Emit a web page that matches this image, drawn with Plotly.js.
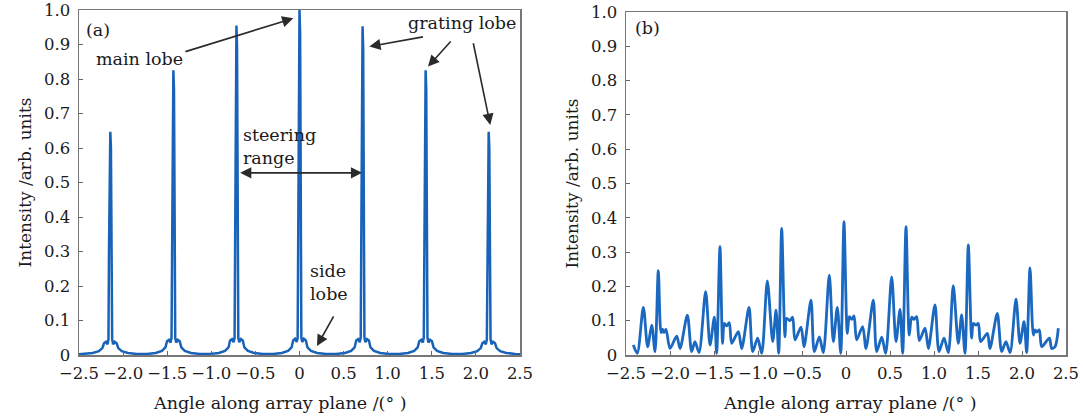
<!DOCTYPE html>
<html>
<head>
<meta charset="utf-8">
<script src="https://cdn.plot.ly/plotly-3.0.1.min.js"></script>
<style>html,body{margin:0;padding:0;background:#fff;}#chart{width:1083px;height:420px;}</style>
</head>
<body>
<div id="chart"></div>
<script>
// Panel (a): array factor with grating lobes
const angleA = [-2.5,
 -2.445,-2.345,-2.275,-2.235,-2.217,-2.195,-2.177,-2.166,-2.160,-2.152,-2.145,-2.138,-2.130,-2.124,-2.113,-2.095,-2.073,-2.055,-2.015,-1.945,-1.845,
 -1.73,-1.63,-1.56,-1.52,-1.502,-1.48,-1.462,-1.451,-1.445,-1.437,-1.43,-1.423,-1.415,-1.409,-1.398,-1.38,-1.358,-1.34,-1.30,-1.23,-1.13,
 -1.015,-0.915,-0.845,-0.805,-0.787,-0.765,-0.747,-0.736,-0.730,-0.722,-0.715,-0.708,-0.700,-0.694,-0.683,-0.665,-0.643,-0.625,-0.585,-0.515,-0.415,
 -0.30,-0.20,-0.13,-0.09,-0.072,-0.05,-0.032,-0.021,-0.015,-0.007,0,0.007,0.015,0.021,0.032,0.05,0.072,0.09,0.13,0.20,0.30,
 0.415,0.515,0.585,0.625,0.643,0.665,0.683,0.694,0.700,0.708,0.715,0.722,0.730,0.736,0.747,0.765,0.787,0.805,0.845,0.915,1.015,
 1.13,1.23,1.30,1.34,1.358,1.38,1.398,1.409,1.415,1.423,1.43,1.437,1.445,1.451,1.462,1.48,1.502,1.52,1.56,1.63,1.73,
 1.845,1.945,2.015,2.055,2.073,2.095,2.113,2.124,2.130,2.138,2.145,2.152,2.160,2.166,2.177,2.195,2.217,2.235,2.275,2.345,2.445,
 2.5];
const intensityA = [0.002,
 0.003,0.006,0.011,0.020,0.034,0.038,0.031,0.045,0.30,0.60,0.647,0.60,0.30,0.045,0.031,0.038,0.034,0.020,0.011,0.006,0.003,
 0.003,0.006,0.012,0.022,0.040,0.044,0.036,0.050,0.38,0.77,0.825,0.77,0.38,0.050,0.036,0.044,0.040,0.022,0.012,0.006,0.003,
 0.003,0.006,0.012,0.022,0.042,0.046,0.037,0.050,0.44,0.89,0.955,0.89,0.44,0.050,0.037,0.046,0.042,0.022,0.012,0.006,0.003,
 0.003,0.006,0.012,0.022,0.042,0.047,0.038,0.050,0.46,0.93,1.0,0.93,0.46,0.050,0.038,0.047,0.042,0.022,0.012,0.006,0.003,
 0.003,0.006,0.012,0.022,0.042,0.046,0.037,0.050,0.44,0.89,0.953,0.89,0.44,0.050,0.037,0.046,0.042,0.022,0.012,0.006,0.003,
 0.003,0.006,0.012,0.022,0.040,0.044,0.036,0.050,0.38,0.77,0.825,0.77,0.38,0.050,0.036,0.044,0.040,0.022,0.012,0.006,0.003,
 0.003,0.006,0.011,0.020,0.034,0.038,0.031,0.045,0.30,0.60,0.647,0.60,0.30,0.045,0.031,0.038,0.034,0.020,0.011,0.006,0.003,
 0.002];

// Panel (b): speckle-like pattern
const angleB = [-2.417,-2.372,-2.303,-2.254,-2.208,-2.170,-2.133,-2.102,-2.085,-2.068,-2.045,-2.000,-1.924,-1.886,-1.803,-1.754,-1.716,-1.670,-1.595,-1.545,-1.496,-1.470,-1.432,-1.402,-1.383,-1.356,-1.326,-1.299,-1.224,-1.185,-1.102,-1.060,-1.004,-0.958,-0.894,-0.833,-0.795,-0.765,-0.731,-0.693,-0.674,-0.636,-0.606,-0.580,-0.511,-0.477,-0.398,-0.360,-0.303,-0.258,-0.190,-0.144,-0.099,-0.060,-0.023,0.015,0.038,0.065,0.091,0.121,0.189,0.227,0.310,0.349,0.406,0.451,0.519,0.568,0.614,0.644,0.682,0.719,0.746,0.773,0.803,0.833,0.898,0.936,1.011,1.057,1.114,1.163,1.219,1.276,1.314,1.352,1.390,1.428,1.447,1.477,1.504,1.530,1.606,1.636,1.719,1.769,1.818,1.864,1.932,1.977,2.023,2.053,2.091,2.129,2.148,2.167,2.197,2.224,2.311,2.337,2.375,2.413];
const intensityB = [0.029,0.005,0.139,0.024,0.087,0.010,0.246,0.065,0.075,0.065,0.075,0.019,0.055,0.019,0.116,0.010,0.039,0.007,0.185,0.029,0.110,0.005,0.316,0.034,0.092,0.085,0.094,0.034,0.068,0.019,0.139,0.010,0.049,0.005,0.216,0.039,0.131,0.005,0.369,0.053,0.107,0.100,0.110,0.044,0.081,0.024,0.160,0.010,0.053,0.007,0.233,0.039,0.139,0.005,0.389,0.063,0.112,0.104,0.114,0.044,0.083,0.019,0.160,0.010,0.052,0.005,0.228,0.039,0.133,0.005,0.374,0.058,0.110,0.104,0.112,0.042,0.078,0.019,0.146,0.010,0.049,0.007,0.202,0.034,0.117,0.005,0.321,0.049,0.092,0.087,0.092,0.039,0.063,0.019,0.121,0.010,0.039,0.007,0.163,0.034,0.097,0.007,0.254,0.058,0.073,0.067,0.073,0.024,0.049,0.019,0.024,0.078];

const xTickVals = [-2.5,-2.0,-1.5,-1.0,-0.5,0,0.5,1.0,1.5,2.0,2.5];
const xTickText = ['\u22122.5','\u22122.0','\u22121.5','\u22121.0','\u22120.5','0','0.5','1.0','1.5','2.0','2.5'];
const yTickVals = [0,0.1,0.2,0.3,0.4,0.5,0.6,0.7,0.8,0.9,1.0];
const yTickText = ['0','0.1','0.2','0.3','0.4','0.5','0.6','0.7','0.8','0.9','1.0'];

const xTitle = 'Angle along array plane /(\u00b0 )';
const yTitle = 'Intensity /arb. units';

const lineColor = '#1862b8';
const frameColor = '#777777';
const textColor = '#1a1a1a';
const FONT = "'DejaVu Serif', 'Liberation Serif', serif";

const traces = [
  {x: angleA, y: intensityA, xaxis: 'x', yaxis: 'y', type: 'scatter', mode: 'lines',
   line: {color: lineColor, width: 2.5}, hoverinfo: 'skip', showlegend: false},
  {x: angleB, y: intensityB, xaxis: 'x2', yaxis: 'y2', type: 'scatter', mode: 'lines',
   line: {color: '#1a68bf', width: 2.8, shape: 'spline', smoothing: 0.8}, hoverinfo: 'skip', showlegend: false}
];

function xAxis(domain, anchor) {
  return {domain: domain, anchor: anchor, range: [-2.5, 2.5], tickmode: 'array',
    tickvals: xTickVals, ticktext: xTickText, ticks: 'inside', ticklen: 4, tickcolor: '#666',
    showline: true, linecolor: frameColor, linewidth: 1.5, mirror: true, showgrid: false, zeroline: false,
    tickfont: {family: FONT, size: 16.5, color: textColor}, ticklabelstandoff: 3, fixedrange: true};
}
function yAxis(domain, anchor) {
  return {domain: domain, anchor: anchor, range: [0, 1], tickmode: 'array',
    tickvals: yTickVals, ticktext: yTickText, ticks: 'inside', ticklen: 4, tickcolor: '#666',
    showline: true, linecolor: frameColor, linewidth: 1.5, mirror: true, showgrid: false, zeroline: false,
    tickfont: {family: FONT, size: 16.5, color: textColor}, ticklabelstandoff: 4, ticklabeloverflow: 'allow',
    title: {text: yTitle, font: {family: FONT, size: 17, color: textColor}, standoff: 8}, fixedrange: true};
}

const annFont = {family: FONT, size: 17.5, color: textColor};
const arrowColor = '#2a2a2a';
function arrow(x, y, ax, ay, xr, yr, side) {
  return {x: x, y: y, ax: ax, ay: ay, xref: xr, yref: yr, axref: xr, ayref: yr, text: '',
    showarrow: true, arrowhead: 2, arrowsize: 1.4, arrowwidth: 1.6, arrowcolor: arrowColor,
    arrowside: side || 'end', standoff: 0, startstandoff: 0};
}

const annotations = [
  {x: -2.285, y: 0.942, xref: 'x', yref: 'y', text: '(a)', showarrow: false, font: annFont},
  {x: -1.814, y: 0.857, xref: 'x', yref: 'y', text: 'main lobe', showarrow: false, font: annFont},
  arrow(-0.07, 0.976, -1.31, 0.878, 'x', 'y'),
  {x: -0.66, y: 0.603, xref: 'x', yref: 'y', text: 'steering<br>range', showarrow: false, font: annFont,
   xanchor: 'left', align: 'left'},
  arrow(0.71, 0.528, -0.69, 0.528, 'x', 'y', 'end+start'),
  {x: 1.848, y: 0.962, xref: 'x', yref: 'y', text: 'grating lobe', showarrow: false, font: annFont},
  arrow(0.792, 0.894, 1.417, 0.923, 'x', 'y'),
  arrow(1.457, 0.836, 1.729, 0.913, 'x', 'y'),
  arrow(2.163, 0.667, 1.967, 0.908, 'x', 'y'),
  {x: 0.10, y: 0.211, xref: 'x', yref: 'y', text: 'side<br>lobe', showarrow: false, font: annFont,
   xanchor: 'left', align: 'left'},
  arrow(0.198, 0.026, 0.396, 0.116, 'x', 'y'),
  {x: -2.261, y: 0.953, xref: 'x2', yref: 'y2', text: '(b)', showarrow: false, font: annFont},
  {x: 280/1083, y: -0.138, xref: 'paper', yref: 'paper', xanchor: 'center', yanchor: 'middle', text: xTitle, showarrow: false,
   font: {family: FONT, size: 17.5, color: textColor}},
  {x: 850/1083, y: -0.138, xref: 'paper', yref: 'paper', xanchor: 'center', yanchor: 'middle', text: xTitle, showarrow: false,
   font: {family: FONT, size: 17.5, color: textColor}}
];

const layout = {
  width: 1083, height: 420,
  margin: {l: 0, r: 0, t: 10, b: 65},
  paper_bgcolor: '#ffffff', plot_bgcolor: '#ffffff',
  font: {family: FONT, color: textColor},
  xaxis: xAxis([79/1083, 520/1083], 'y'),
  yaxis: yAxis([0, 1], 'x'),
  xaxis2: xAxis([626/1083, 1066/1083], 'y2'),
  yaxis2: yAxis([0, 343/345], 'x2'),
  annotations: annotations,
  showlegend: false
};

Plotly.newPlot('chart', traces, layout, {displayModeBar: false, staticPlot: true});
</script>
</body>
</html>
